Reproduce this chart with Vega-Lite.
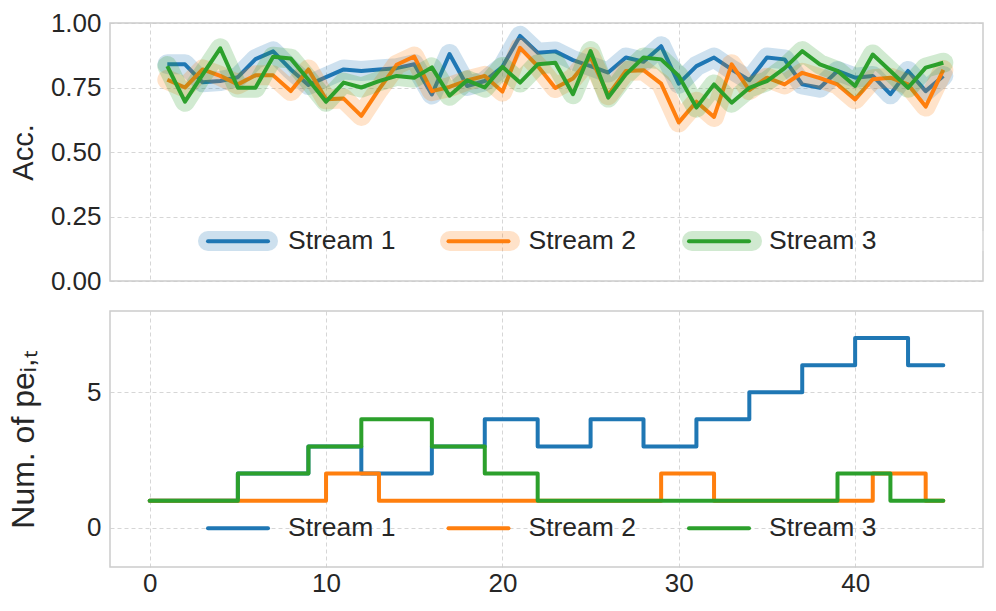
{
  "$schema": "https://vega.github.io/schema/vega-lite/v6.json",
  "background": "white",
  "padding": {"left": 6, "top": 9, "right": 10, "bottom": 5},
  "spacing": 15,
  "resolve": {
    "scale": {"color": "independent", "stroke": "independent"},
    "legend": {"color": "independent", "stroke": "independent"}
  },
  "config": {
    "font": "Liberation Sans",
    "view": {"stroke": "#cccccc", "strokeWidth": 1.5},
    "axis": {
      "grid": true, "gridColor": "#cccccc", "gridDash": [4, 3], "gridWidth": 0.8,
      "domain": false, "ticks": false,
      "labelFontSize": 26, "labelColor": "#262626", "labelPadding": 9,
      "titleFontSize": 29, "titleColor": "#262626", "titleFontWeight": "normal"
    }
  },
  "datasets": {
    "acc": [
      {"x":1,"s":"Stream 1","v":0.84},{"x":2,"s":"Stream 1","v":0.84},{"x":3,"s":"Stream 1","v":0.77},{"x":4,"s":"Stream 1","v":0.775},{"x":5,"s":"Stream 1","v":0.79},
      {"x":6,"s":"Stream 1","v":0.86},{"x":7,"s":"Stream 1","v":0.89},{"x":8,"s":"Stream 1","v":0.82},{"x":9,"s":"Stream 1","v":0.76},{"x":10,"s":"Stream 1","v":0.79},
      {"x":11,"s":"Stream 1","v":0.82},{"x":12,"s":"Stream 1","v":0.814},{"x":13,"s":"Stream 1","v":0.82},{"x":14,"s":"Stream 1","v":0.825},{"x":15,"s":"Stream 1","v":0.84},
      {"x":16,"s":"Stream 1","v":0.723},{"x":17,"s":"Stream 1","v":0.88},{"x":18,"s":"Stream 1","v":0.756},{"x":19,"s":"Stream 1","v":0.775},{"x":20,"s":"Stream 1","v":0.83},
      {"x":21,"s":"Stream 1","v":0.95},{"x":22,"s":"Stream 1","v":0.885},{"x":23,"s":"Stream 1","v":0.89},{"x":24,"s":"Stream 1","v":0.856},{"x":25,"s":"Stream 1","v":0.833},
      {"x":26,"s":"Stream 1","v":0.808},{"x":27,"s":"Stream 1","v":0.866},{"x":28,"s":"Stream 1","v":0.85},{"x":29,"s":"Stream 1","v":0.91},{"x":30,"s":"Stream 1","v":0.765},
      {"x":31,"s":"Stream 1","v":0.833},{"x":32,"s":"Stream 1","v":0.866},{"x":33,"s":"Stream 1","v":0.82},{"x":34,"s":"Stream 1","v":0.778},{"x":35,"s":"Stream 1","v":0.866},
      {"x":36,"s":"Stream 1","v":0.859},{"x":37,"s":"Stream 1","v":0.762},{"x":38,"s":"Stream 1","v":0.749},{"x":39,"s":"Stream 1","v":0.814},{"x":40,"s":"Stream 1","v":0.788},
      {"x":41,"s":"Stream 1","v":0.795},{"x":42,"s":"Stream 1","v":0.724},{"x":43,"s":"Stream 1","v":0.814},{"x":44,"s":"Stream 1","v":0.736},{"x":45,"s":"Stream 1","v":0.795},

      {"x":1,"s":"Stream 2","v":0.78},{"x":2,"s":"Stream 2","v":0.75},{"x":3,"s":"Stream 2","v":0.82},{"x":4,"s":"Stream 2","v":0.795},{"x":5,"s":"Stream 2","v":0.762},
      {"x":6,"s":"Stream 2","v":0.797},{"x":7,"s":"Stream 2","v":0.797},{"x":8,"s":"Stream 2","v":0.736},{"x":9,"s":"Stream 2","v":0.82},{"x":10,"s":"Stream 2","v":0.704},
      {"x":11,"s":"Stream 2","v":0.707},{"x":12,"s":"Stream 2","v":0.64},{"x":13,"s":"Stream 2","v":0.743},{"x":14,"s":"Stream 2","v":0.838},{"x":15,"s":"Stream 2","v":0.87},
      {"x":16,"s":"Stream 2","v":0.736},{"x":17,"s":"Stream 2","v":0.752},{"x":18,"s":"Stream 2","v":0.777},{"x":19,"s":"Stream 2","v":0.795},{"x":20,"s":"Stream 2","v":0.734},
      {"x":21,"s":"Stream 2","v":0.904},{"x":22,"s":"Stream 2","v":0.833},{"x":23,"s":"Stream 2","v":0.748},{"x":24,"s":"Stream 2","v":0.785},{"x":25,"s":"Stream 2","v":0.868},
      {"x":26,"s":"Stream 2","v":0.72},{"x":27,"s":"Stream 2","v":0.814},{"x":28,"s":"Stream 2","v":0.817},{"x":29,"s":"Stream 2","v":0.765},{"x":30,"s":"Stream 2","v":0.615},
      {"x":31,"s":"Stream 2","v":0.695},{"x":32,"s":"Stream 2","v":0.636},{"x":33,"s":"Stream 2","v":0.84},{"x":34,"s":"Stream 2","v":0.74},{"x":35,"s":"Stream 2","v":0.788},
      {"x":36,"s":"Stream 2","v":0.762},{"x":37,"s":"Stream 2","v":0.807},{"x":38,"s":"Stream 2","v":0.786},{"x":39,"s":"Stream 2","v":0.762},{"x":40,"s":"Stream 2","v":0.704},
      {"x":41,"s":"Stream 2","v":0.782},{"x":42,"s":"Stream 2","v":0.788},{"x":43,"s":"Stream 2","v":0.762},{"x":44,"s":"Stream 2","v":0.676},{"x":45,"s":"Stream 2","v":0.818},

      {"x":1,"s":"Stream 3","v":0.833},{"x":2,"s":"Stream 3","v":0.695},{"x":3,"s":"Stream 3","v":0.8},{"x":4,"s":"Stream 3","v":0.902},{"x":5,"s":"Stream 3","v":0.749},
      {"x":6,"s":"Stream 3","v":0.749},{"x":7,"s":"Stream 3","v":0.869},{"x":8,"s":"Stream 3","v":0.862},{"x":9,"s":"Stream 3","v":0.78},{"x":10,"s":"Stream 3","v":0.695},
      {"x":11,"s":"Stream 3","v":0.769},{"x":12,"s":"Stream 3","v":0.75},{"x":13,"s":"Stream 3","v":0.775},{"x":14,"s":"Stream 3","v":0.795},{"x":15,"s":"Stream 3","v":0.788},
      {"x":16,"s":"Stream 3","v":0.828},{"x":17,"s":"Stream 3","v":0.718},{"x":18,"s":"Stream 3","v":0.778},{"x":19,"s":"Stream 3","v":0.75},{"x":20,"s":"Stream 3","v":0.83},
      {"x":21,"s":"Stream 3","v":0.769},{"x":22,"s":"Stream 3","v":0.84},{"x":23,"s":"Stream 3","v":0.846},{"x":24,"s":"Stream 3","v":0.724},{"x":25,"s":"Stream 3","v":0.891},
      {"x":26,"s":"Stream 3","v":0.711},{"x":27,"s":"Stream 3","v":0.801},{"x":28,"s":"Stream 3","v":0.866},{"x":29,"s":"Stream 3","v":0.859},{"x":30,"s":"Stream 3","v":0.795},
      {"x":31,"s":"Stream 3","v":0.672},{"x":32,"s":"Stream 3","v":0.762},{"x":33,"s":"Stream 3","v":0.691},{"x":34,"s":"Stream 3","v":0.749},{"x":35,"s":"Stream 3","v":0.775},
      {"x":36,"s":"Stream 3","v":0.825},{"x":37,"s":"Stream 3","v":0.891},{"x":38,"s":"Stream 3","v":0.84},{"x":39,"s":"Stream 3","v":0.814},{"x":40,"s":"Stream 3","v":0.756},
      {"x":41,"s":"Stream 3","v":0.878},{"x":42,"s":"Stream 3","v":0.814},{"x":43,"s":"Stream 3","v":0.749},{"x":44,"s":"Stream 3","v":0.827},{"x":45,"s":"Stream 3","v":0.846}
    ],
    "num": [
      {"x":0,"s":"Stream 1","n":1},{"x":1,"s":"Stream 1","n":1},{"x":2,"s":"Stream 1","n":1},{"x":3,"s":"Stream 1","n":1},{"x":4,"s":"Stream 1","n":1},
      {"x":5,"s":"Stream 1","n":2},{"x":6,"s":"Stream 1","n":2},{"x":7,"s":"Stream 1","n":2},{"x":8,"s":"Stream 1","n":2},{"x":9,"s":"Stream 1","n":3},
      {"x":10,"s":"Stream 1","n":3},{"x":11,"s":"Stream 1","n":3},{"x":12,"s":"Stream 1","n":2},{"x":13,"s":"Stream 1","n":2},{"x":14,"s":"Stream 1","n":2},
      {"x":15,"s":"Stream 1","n":2},{"x":16,"s":"Stream 1","n":3},{"x":17,"s":"Stream 1","n":3},{"x":18,"s":"Stream 1","n":3},{"x":19,"s":"Stream 1","n":4},
      {"x":20,"s":"Stream 1","n":4},{"x":21,"s":"Stream 1","n":4},{"x":22,"s":"Stream 1","n":3},{"x":23,"s":"Stream 1","n":3},{"x":24,"s":"Stream 1","n":3},
      {"x":25,"s":"Stream 1","n":4},{"x":26,"s":"Stream 1","n":4},{"x":27,"s":"Stream 1","n":4},{"x":28,"s":"Stream 1","n":3},{"x":29,"s":"Stream 1","n":3},
      {"x":30,"s":"Stream 1","n":3},{"x":31,"s":"Stream 1","n":4},{"x":32,"s":"Stream 1","n":4},{"x":33,"s":"Stream 1","n":4},{"x":34,"s":"Stream 1","n":5},
      {"x":35,"s":"Stream 1","n":5},{"x":36,"s":"Stream 1","n":5},{"x":37,"s":"Stream 1","n":6},{"x":38,"s":"Stream 1","n":6},{"x":39,"s":"Stream 1","n":6},
      {"x":40,"s":"Stream 1","n":7},{"x":41,"s":"Stream 1","n":7},{"x":42,"s":"Stream 1","n":7},{"x":43,"s":"Stream 1","n":6},{"x":44,"s":"Stream 1","n":6},
      {"x":45,"s":"Stream 1","n":6},

      {"x":0,"s":"Stream 2","n":1},{"x":1,"s":"Stream 2","n":1},{"x":2,"s":"Stream 2","n":1},{"x":3,"s":"Stream 2","n":1},{"x":4,"s":"Stream 2","n":1},
      {"x":5,"s":"Stream 2","n":1},{"x":6,"s":"Stream 2","n":1},{"x":7,"s":"Stream 2","n":1},{"x":8,"s":"Stream 2","n":1},{"x":9,"s":"Stream 2","n":1},
      {"x":10,"s":"Stream 2","n":2},{"x":11,"s":"Stream 2","n":2},{"x":12,"s":"Stream 2","n":2},{"x":13,"s":"Stream 2","n":1},{"x":14,"s":"Stream 2","n":1},
      {"x":15,"s":"Stream 2","n":1},{"x":16,"s":"Stream 2","n":1},{"x":17,"s":"Stream 2","n":1},{"x":18,"s":"Stream 2","n":1},{"x":19,"s":"Stream 2","n":1},
      {"x":20,"s":"Stream 2","n":1},{"x":21,"s":"Stream 2","n":1},{"x":22,"s":"Stream 2","n":1},{"x":23,"s":"Stream 2","n":1},{"x":24,"s":"Stream 2","n":1},
      {"x":25,"s":"Stream 2","n":1},{"x":26,"s":"Stream 2","n":1},{"x":27,"s":"Stream 2","n":1},{"x":28,"s":"Stream 2","n":1},{"x":29,"s":"Stream 2","n":2},
      {"x":30,"s":"Stream 2","n":2},{"x":31,"s":"Stream 2","n":2},{"x":32,"s":"Stream 2","n":1},{"x":33,"s":"Stream 2","n":1},{"x":34,"s":"Stream 2","n":1},
      {"x":35,"s":"Stream 2","n":1},{"x":36,"s":"Stream 2","n":1},{"x":37,"s":"Stream 2","n":1},{"x":38,"s":"Stream 2","n":1},{"x":39,"s":"Stream 2","n":1},
      {"x":40,"s":"Stream 2","n":1},{"x":41,"s":"Stream 2","n":2},{"x":42,"s":"Stream 2","n":2},{"x":43,"s":"Stream 2","n":2},{"x":44,"s":"Stream 2","n":1},
      {"x":45,"s":"Stream 2","n":1},

      {"x":0,"s":"Stream 3","n":1},{"x":1,"s":"Stream 3","n":1},{"x":2,"s":"Stream 3","n":1},{"x":3,"s":"Stream 3","n":1},{"x":4,"s":"Stream 3","n":1},
      {"x":5,"s":"Stream 3","n":2},{"x":6,"s":"Stream 3","n":2},{"x":7,"s":"Stream 3","n":2},{"x":8,"s":"Stream 3","n":2},{"x":9,"s":"Stream 3","n":3},
      {"x":10,"s":"Stream 3","n":3},{"x":11,"s":"Stream 3","n":3},{"x":12,"s":"Stream 3","n":4},{"x":13,"s":"Stream 3","n":4},{"x":14,"s":"Stream 3","n":4},
      {"x":15,"s":"Stream 3","n":4},{"x":16,"s":"Stream 3","n":3},{"x":17,"s":"Stream 3","n":3},{"x":18,"s":"Stream 3","n":3},{"x":19,"s":"Stream 3","n":2},
      {"x":20,"s":"Stream 3","n":2},{"x":21,"s":"Stream 3","n":2},{"x":22,"s":"Stream 3","n":1},{"x":23,"s":"Stream 3","n":1},{"x":24,"s":"Stream 3","n":1},
      {"x":25,"s":"Stream 3","n":1},{"x":26,"s":"Stream 3","n":1},{"x":27,"s":"Stream 3","n":1},{"x":28,"s":"Stream 3","n":1},{"x":29,"s":"Stream 3","n":1},
      {"x":30,"s":"Stream 3","n":1},{"x":31,"s":"Stream 3","n":1},{"x":32,"s":"Stream 3","n":1},{"x":33,"s":"Stream 3","n":1},{"x":34,"s":"Stream 3","n":1},
      {"x":35,"s":"Stream 3","n":1},{"x":36,"s":"Stream 3","n":1},{"x":37,"s":"Stream 3","n":1},{"x":38,"s":"Stream 3","n":1},{"x":39,"s":"Stream 3","n":2},
      {"x":40,"s":"Stream 3","n":2},{"x":41,"s":"Stream 3","n":2},{"x":42,"s":"Stream 3","n":1},{"x":43,"s":"Stream 3","n":1},{"x":44,"s":"Stream 3","n":1},
      {"x":45,"s":"Stream 3","n":1}
    ]
  },
  "vconcat": [
    {
      "width": 873,
      "height": 258,
      "data": {"name": "acc"},
      "encoding": {
        "x": {"field": "x", "type": "quantitative",
              "scale": {"domain": [-2.25, 47.25], "nice": false, "zero": false},
              "axis": {"values": [0, 10, 20, 30, 40], "labels": false, "title": null}},
        "y": {"field": "v", "type": "quantitative",
              "scale": {"domain": [0, 1], "nice": false},
              "axis": {"values": [0, 0.25, 0.5, 0.75, 1], "format": ".2f", "title": "Acc.", "titlePadding": 12, "minExtent": 60, "maxExtent": 60}}
      },
      "layer": [
        {"transform": [{"filter": "datum.s === 'Stream 1'"}],
         "mark": {"type": "line", "strokeWidth": 20, "strokeOpacity": 0.22, "strokeCap": "round", "strokeJoin": "round"},
         "encoding": {"stroke": {"field": "s", "type": "nominal",
            "scale": {"domain": ["Stream 1", "Stream 2", "Stream 3", " "], "range": ["#1f77b4", "#ff7f0e", "#2ca02c", "#ffffff"]},
            "legend": {"orient": "none", "legendX": 88, "legendY": 178, "direction": "horizontal", "columns": 4, "title": null,
                       "symbolType": "stroke", "symbolSize": 3600, "symbolStrokeWidth": 20, "symbolOpacity": 0.22,
                       "labelFontSize": 26.5, "labelOffset": 18, "columnPadding": 102, "labelExpr": "''", "zindex": 0,
                       "encode": {"symbols": {"update": {"strokeCap": {"value": "round"}}}}}}}},
        {"transform": [{"filter": "datum.s === 'Stream 1'"}],
         "mark": {"type": "line", "strokeWidth": 4, "strokeJoin": "round"},
         "encoding": {"color": {"field": "s", "type": "nominal",
            "scale": {"domain": ["Stream 1", "Stream 2", "Stream 3"], "range": ["#1f77b4", "#ff7f0e", "#2ca02c"]},
            "legend": {"orient": "none", "legendX": 96, "legendY": 186, "direction": "horizontal", "columns": 3, "title": null,
                       "symbolType": "stroke", "symbolSize": 3600, "symbolStrokeWidth": 4,
                       "labelFontSize": 26.5, "labelOffset": 18, "columnPadding": 44.5, "labelColor": "#262626", "zindex": 1,
                       "encode": {"symbols": {"update": {"strokeCap": {"value": "round"}}}}}}}},
        {"transform": [{"filter": "datum.s === 'Stream 2'"}],
         "mark": {"type": "line", "strokeWidth": 20, "strokeOpacity": 0.22, "strokeCap": "round", "strokeJoin": "round"},
         "encoding": {"stroke": {"field": "s", "type": "nominal"}}},
        {"transform": [{"filter": "datum.s === 'Stream 2'"}],
         "mark": {"type": "line", "strokeWidth": 4, "strokeJoin": "round"},
         "encoding": {"color": {"field": "s", "type": "nominal"}}},
        {"transform": [{"filter": "datum.s === 'Stream 3'"}],
         "mark": {"type": "line", "strokeWidth": 20, "strokeOpacity": 0.22, "strokeCap": "round", "strokeJoin": "round"},
         "encoding": {"stroke": {"field": "s", "type": "nominal"}}},
        {"transform": [{"filter": "datum.s === 'Stream 3'"}],
         "mark": {"type": "line", "strokeWidth": 4, "strokeJoin": "round"},
         "encoding": {"color": {"field": "s", "type": "nominal"}}}
      ]
    },
    {
      "width": 873,
      "height": 256,
      "data": {"name": "num"},
      "mark": {"type": "line", "interpolate": "step-after", "strokeWidth": 4, "strokeCap": "round", "strokeJoin": "round"},
      "encoding": {
        "x": {"field": "x", "type": "quantitative",
              "scale": {"domain": [-2.25, 47.25], "nice": false, "zero": false},
              "axis": {"values": [0, 10, 20, 30, 40], "title": null, "labelPadding": 3}},
        "y": {"field": "n", "type": "quantitative",
              "scale": {"domain": [-1.45, 8.0], "nice": false, "zero": false},
              "axis": {"values": [0, 5], "title": "Num. of peᵢ,ₜ", "titleFontSize": 32, "titlePadding": 10, "minExtent": 60, "maxExtent": 60}},
        "color": {"field": "s", "type": "nominal",
          "scale": {"domain": ["Stream 1", "Stream 2", "Stream 3"], "range": ["#1f77b4", "#ff7f0e", "#2ca02c"]},
          "legend": {"orient": "none", "legendX": 96, "legendY": 185, "direction": "horizontal", "columns": 3, "title": null,
                     "symbolType": "stroke", "symbolSize": 3600, "symbolStrokeWidth": 4,
                     "labelFontSize": 26.5, "labelOffset": 18, "columnPadding": 44.5, "labelColor": "#262626",
                     "encode": {"symbols": {"update": {"strokeCap": {"value": "round"}}}}}}
      }
    }
  ]
}
